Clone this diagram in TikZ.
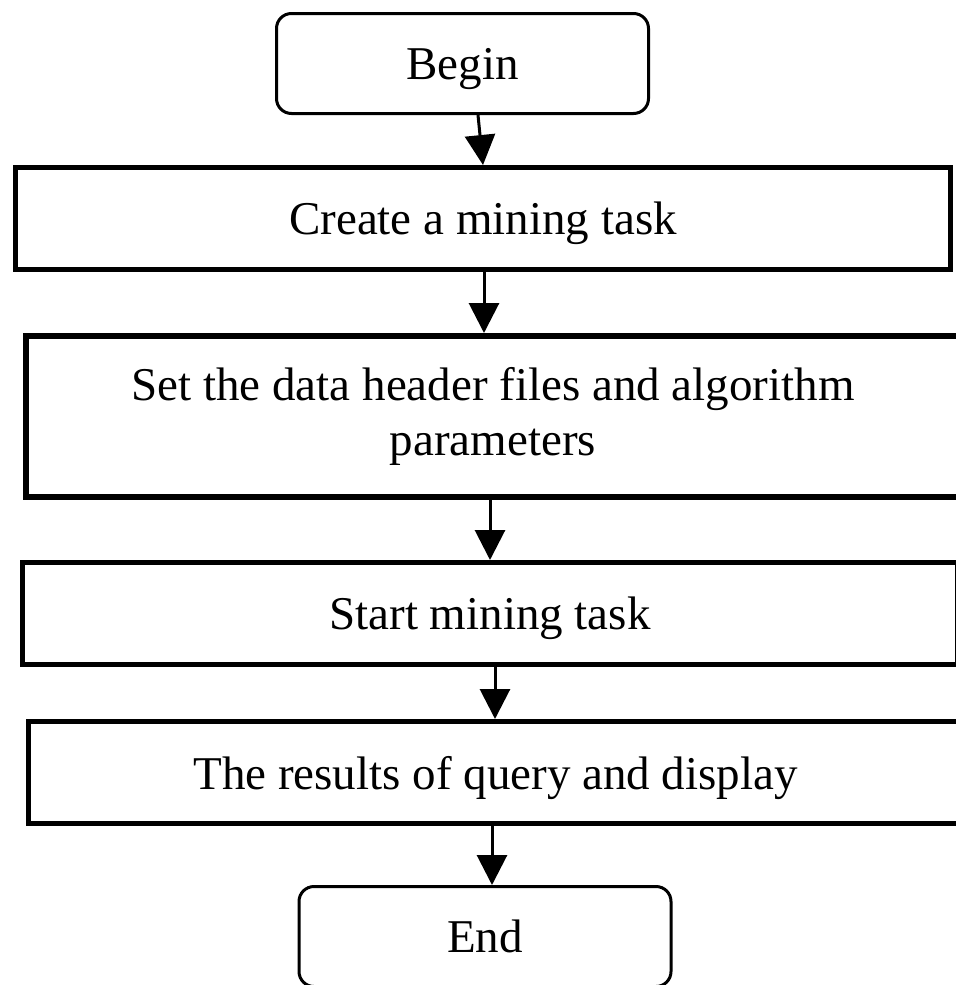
\documentclass[tikz,border=0pt]{standalone}
\usepackage{fontspec}
\setmainfont{Liberation Serif}
\usetikzlibrary{positioning, arrows.meta}

\begin{document}
\begin{tikzpicture} [on grid,
    every node/.style = {font=\fontsize{23.5}{27.5}\selectfont},
    term/.style = {draw, line width=1.5pt, rounded corners=7.5pt, minimum width=186pt, minimum height=50pt, text depth=0pt},
    task/.style = {draw, line width=2.5pt, minimum width=467.5pt, minimum height=51pt, text depth=0pt},
    flow/.style = {-{Triangle[width=15pt, length=15pt]}, line width=1.5pt}]
\useasboundingbox (0,0) rectangle (478pt,-492.5pt);
\node (begin) [term] at (231.25pt,-31.75pt) {Begin};
\node (create) [task, below = 77.5pt of begin, xshift = 10.25pt] {Create a mining task};
\node (set) [task, line width = 3pt, minimum height = 80.5pt, align = center, text depth = 5pt,
    below = 99pt of create, xshift = 5pt] {Set the data header files and algorithm\\parameters};
\node (start) [task, below = 98.5pt of set, xshift = -1.5pt] {Start mining task};
\node (results) [task, below = 79.5pt of start, xshift = 2.75pt] {The results of query and display};
\node (end) [term, below = 82pt of results, xshift = -5.25pt] {End};
\draw [flow] ([xshift=7.75pt]begin.south) -- (create.north);
\draw [flow] ([xshift=0.5pt]create.south) -- ([xshift=-4.5pt]set.north);
\draw [flow] ([xshift=-1.5pt]set.south) -- (start.north);
\draw [flow] ([xshift=2.5pt]start.south) -- ([xshift=-0.25pt]results.north);
\draw [flow] ([xshift=-1.75pt]results.south) -- ([xshift=3.5pt]end.north);
\end{tikzpicture}
\end{document}
